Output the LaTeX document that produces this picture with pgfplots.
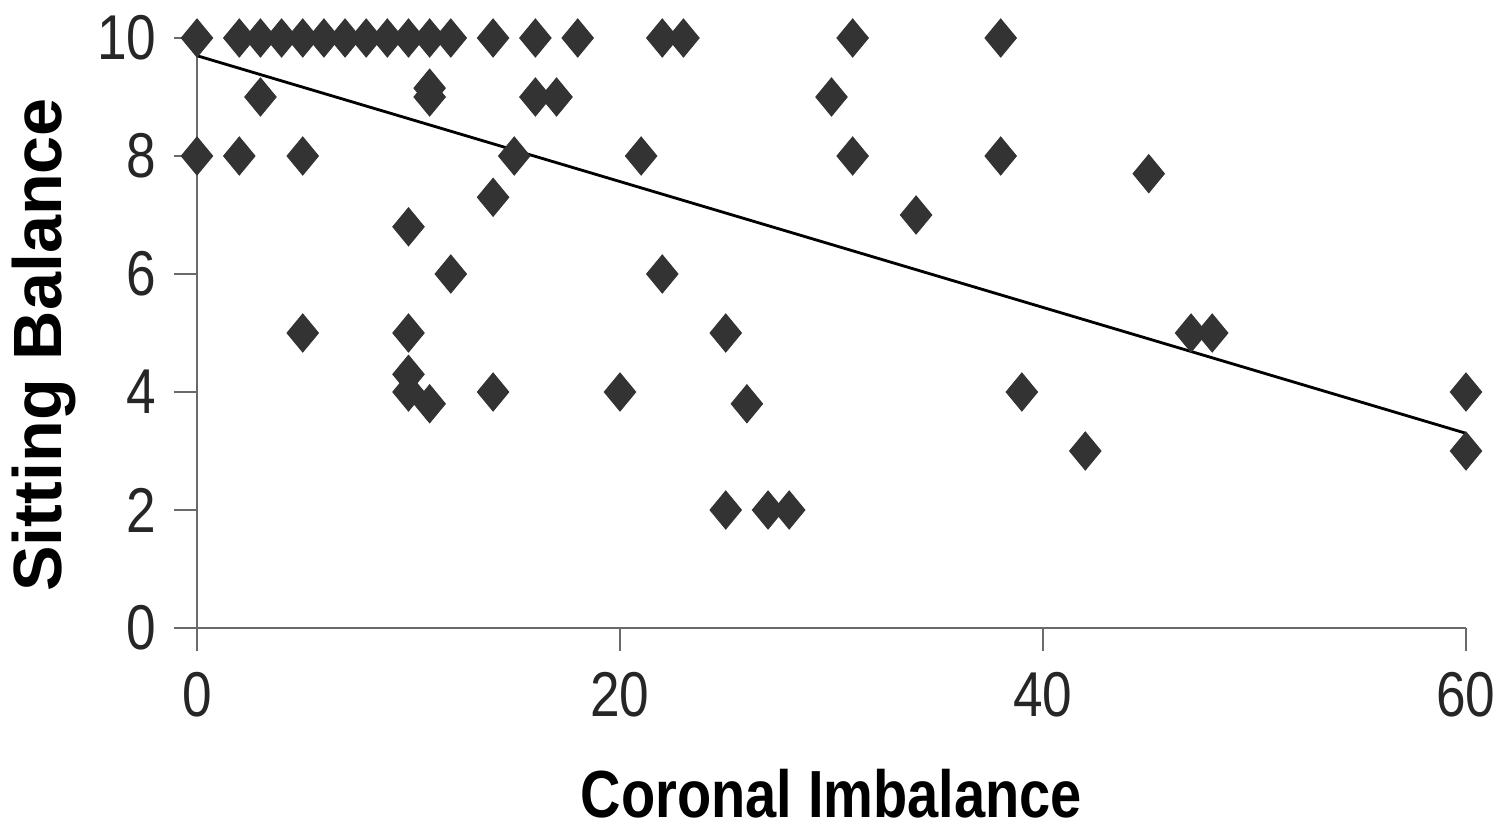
\documentclass[border=0pt]{standalone}
\usepackage{fontspec}
\setmainfont{Liberation Sans}[FakeStretch=0.84]
\newfontfamily\ylabfont{Liberation Sans}
\usepackage{pgfplots}
\pgfplotsset{compat=1.18}
\definecolor{markgray}{HTML}{333333}
\definecolor{axgray}{HTML}{6A6A6A}

\begin{document}
\begin{tikzpicture}
\begin{axis}[
    scale only axis, width=380.7pt, height=177pt,
    xmin=0, xmax=60, ymin=0, ymax=10,
    axis x line*=bottom, axis y line*=left,
    xtick pos=bottom, ytick pos=left,
    axis line style={-, axgray, line width=0.75pt},
    xtick={0,20,40,60}, ytick={0,2,4,6,8,10},
    tick align=outside, major tick length=7pt,
    tick style={axgray, line width=0.75pt},
    /pgf/number format/assume math mode=true,
    tick label style={font=\fontsize{19}{19}\selectfont, text=black!85},
    xticklabel style={anchor=north, inner sep=0pt, yshift=-6pt},
    yticklabel style={anchor=east, inner sep=0pt, xshift=-5pt},
    clip=false,
    xlabel={Coronal Imbalance}, ylabel={Sitting Balance},
    xlabel style={font=\fontsize{20}{20}\selectfont\bfseries, at={(axis description cs:0.5,-0.322)}, anchor=base},
    ylabel style={font=\ylabfont\fontsize{20.5}{20.5}\selectfont\bfseries, at={(axis description cs:-0.1064,0.48)}, anchor=base},
]
% patients
\addplot[only marks, mark=diamond*, mark size=5.7pt, color=markgray,
    mark options={xscale=1.1, line width=0.3pt}] table {
x y
0 10
2 10
3 10
4 10
5 10
6 10
7 10
8 10
9 10
10 10
11 10
12 10
14 10
16 10
18 10
22 10
23 10
31 10
38 10
3 9
11 9
11 9.15
16 9
17 9
30 9
0 8
2 8
5 8
15 8
21 8
31 8
38 8
14 7.3
10 6.8
12 6
22 6
34 7
45 7.7
5 5
10 5
25 5
47 5
48 5
10 4.3
10 4.0
11 3.8
14 4
20 4
26 3.8
39 4
60 4
25 2
27 2
28 2
42 3
60 3
};
% linear trend
\addplot[black, line width=0.85pt] coordinates {(0,9.7) (60,3.3)};
\end{axis}
\pgfresetboundingbox
\path (-59.1pt,-60.3pt) rectangle (390pt,188.4pt);
\end{tikzpicture}
\end{document}
